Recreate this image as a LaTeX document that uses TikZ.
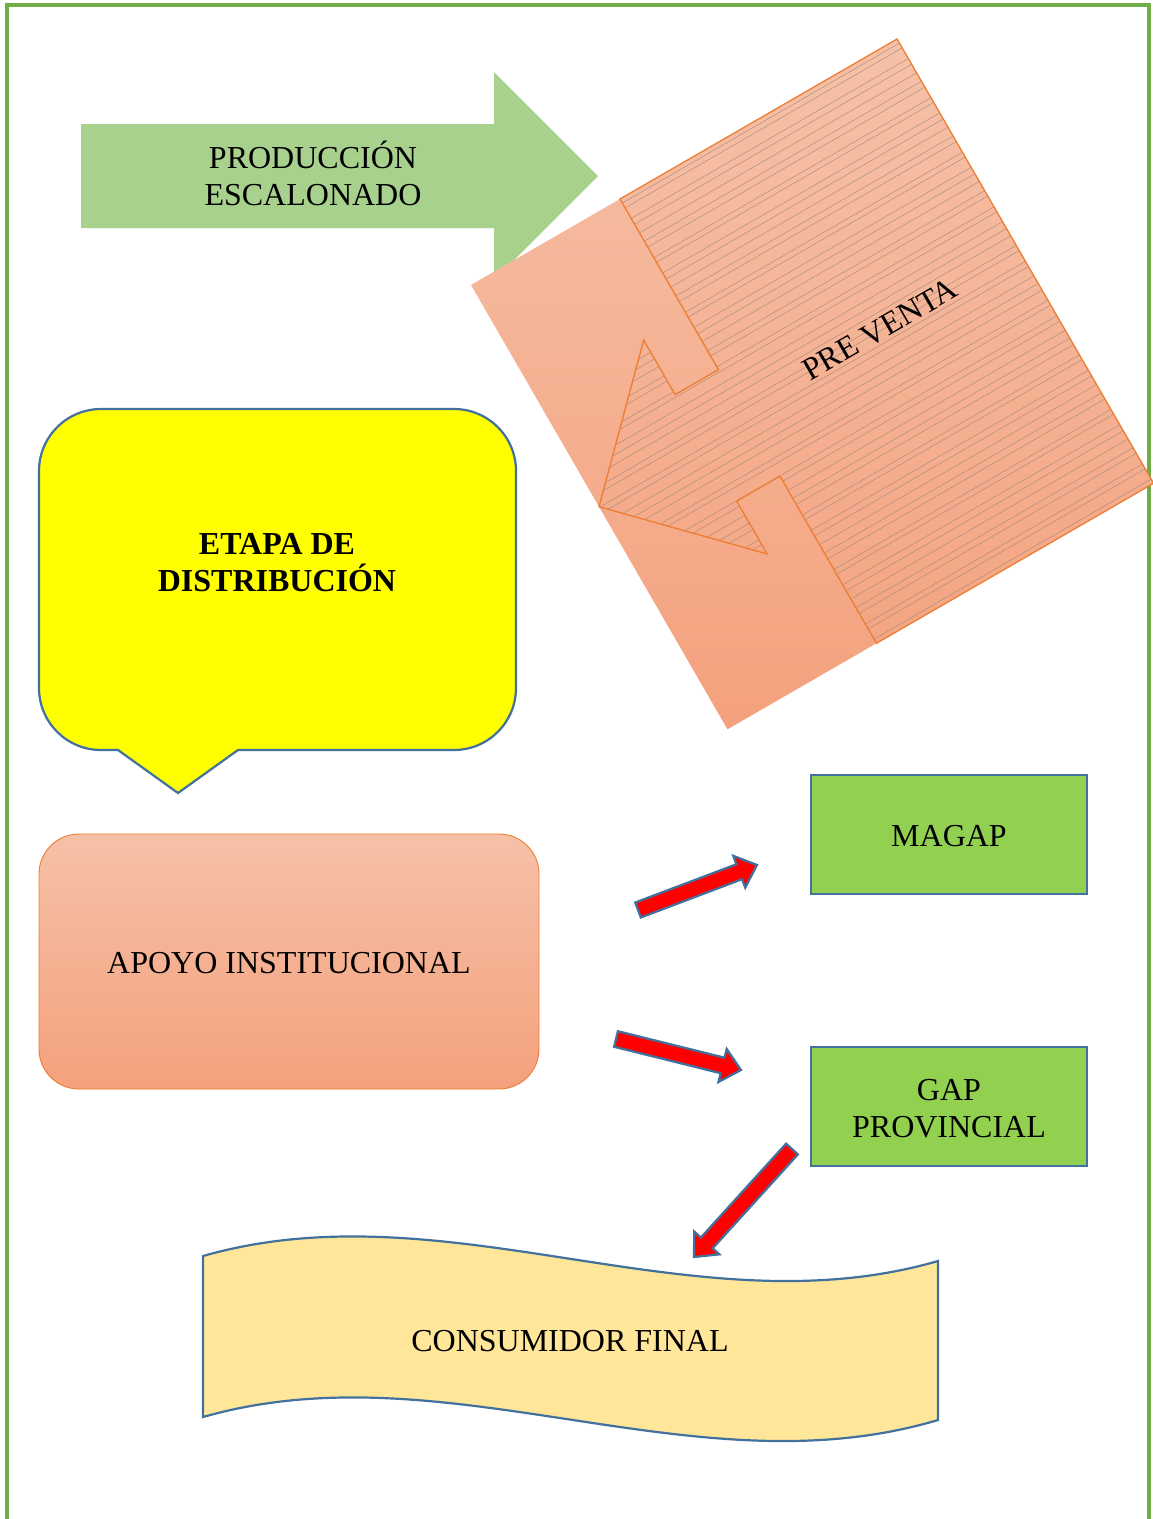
\documentclass[tikz,border=0pt]{standalone}
\usepackage{fontspec}
\setmainfont{Liberation Serif}
\usetikzlibrary{calc}

\definecolor{pageframe}{HTML}{70AD47}
\definecolor{arrowgreen}{HTML}{A9D18E}
\definecolor{salmonlight}{HTML}{F6C1A8}
\definecolor{salmondark}{HTML}{F4A17D}
\definecolor{orangeline}{HTML}{ED7D31}
\definecolor{hatchgray}{HTML}{A58C7E}
\definecolor{steelblue}{HTML}{41719C}
\definecolor{leafgreen}{HTML}{92D050}
\definecolor{paleyellow}{HTML}{FFE699}
\definecolor{brightyellow}{HTML}{FFFF00}
\definecolor{arrowred}{HTML}{FF0000}

\tikzset{
  txt/.style={font=\fontsize{32}{37}\selectfont, align=center, text=black, inner sep=0pt},
  boldtxt/.style={txt, font=\fontsize{32}{37}\selectfont\bfseries},
  greenbox/.style={draw=steelblue, line width=2.2pt, fill=leafgreen,
    minimum width=276pt, minimum height=119pt},
  blockarrow/.style={fill=arrowred, draw=steelblue, line width=2.2pt, line join=miter},
  hatchline/.style={draw=hatchgray, line width=0.45pt},
}

% block arrow between two named coordinates
\newcommand\blockarr[2]{%
  \path ($(#2)!19pt!(#1)$) coordinate (hd);
  \draw[blockarrow]
    ($(#1)!8pt!90:(#2)$) -- ($(hd)!8pt!90:(#2)$) -- ($(hd)!17pt!90:(#2)$)
    -- (#2)
    -- ($(hd)!17pt!-90:(#2)$) -- ($(hd)!8pt!-90:(#2)$) -- ($(#1)!8pt!-90:(#2)$)
    -- cycle;
}

\begin{document}
\begin{tikzpicture}[x=1pt,y=-1pt]
\useasboundingbox (0,0) rectangle (1153,1519);
\fill[white] (0,0) rectangle (1153,1519);

% page frame, open at the bottom
\draw[pageframe, line width=4pt] (7,1519) -- (7,5) -- (1148.5,5) -- (1148.5,1519);

% green block arrow
\fill[arrowgreen] (81,124) -- (494,124) -- (494,72) -- (598,176) -- (494,280)
  -- (494,228) -- (81,228) -- cycle;
\node[txt] (produccion) at (313,173) {PRODUCCIÓN\\ESCALONADO};

% tilted pre-sale block with its left arrow callout
\begin{scope}[shift={(471,285)}, rotate=30]
  \shade[top color=salmonlight, bottom color=salmondark]
    (0,0) -- (492,0) -- (492,513) -- (0,513) -- cycle;
  \begin{scope}
    \clip (172,0) -- (172,197) -- (122,197) -- (122,134) -- (0,256) -- (122,381)
      -- (122,320) -- (172,320) -- (172,513) -- (492,513) -- (492,0) -- cycle;
    \foreach \v in {3,12,...,516}
      \draw[hatchline] (-5,{\v+1.8*sin(\v*23)}) -- (500,{\v+1.8*sin(\v*23)});
  \end{scope}
  \draw[orangeline, line width=1.3pt, line join=miter]
    (172,0) -- (172,197) -- (122,197) -- (122,134) -- (0,256) -- (122,381)
    -- (122,320) -- (172,320) -- (172,513) -- (492,513) -- (492,0) -- cycle;
  \node[txt, rotate=30] (preventa) at (332,243) {PRE VENTA};
\end{scope}

% yellow speech callout
\draw[fill=brightyellow, draw=steelblue, line width=2.2pt, line join=miter]
  (178,793) -- (118,750) [rounded corners=62pt] -- (39,750) -- (39,409) -- (516,409)
  -- (516,750) [sharp corners] -- (238,750) -- cycle;
\node[boldtxt] (etapa) at (277,563) {ETAPA DE\\DISTRIBUCIÓN};

% institutional support box
\node[draw=orangeline, line width=0.9pt, rounded corners=40pt,
  top color=salmonlight, bottom color=salmondark,
  minimum width=500pt, minimum height=255pt] (apoyo) at (289,961.5) {};
\node[txt] (apoyotxt) at (289,963.5) {APOYO INSTITUCIONAL};

% green boxes
\node[greenbox] (magap) at (949,834.5) {};
\node[txt] at (magap.center) [yshift=-2pt] {MAGAP};
\node[greenbox] (gap) at (949,1106.5) {};
\node[txt] at (gap.center) [yshift=-2pt] {GAP\\PROVINCIAL};

% wave banner
\draw[fill=paleyellow, draw=steelblue, line width=2.2pt]
  (203,1256) .. controls (448,1186) and (693,1332) .. (938,1261)
  -- (938,1420) .. controls (693,1493) and (448,1347) .. (203,1417) -- cycle;
\node[txt] (consumidor) at (570,1341) {CONSUMIDOR FINAL};

% red arrows
\coordinate (r1s) at (638,910);  \coordinate (r1e) at (757,865);
\coordinate (r2s) at (616,1039); \coordinate (r2e) at (741,1070);
\coordinate (r3s) at (792,1149); \coordinate (r3e) at (694,1257);
\blockarr{r1s}{r1e}
\blockarr{r2s}{r2e}
\blockarr{r3s}{r3e}
\end{tikzpicture}
\end{document}
